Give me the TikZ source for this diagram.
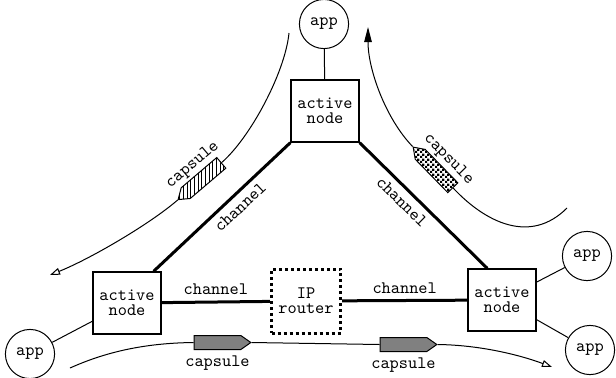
\documentclass[tikz,border=0pt]{standalone}
\usepackage{fontspec}
\usetikzlibrary{arrows.meta,positioning,shapes.symbols,patterns.meta}

% small checkerboard for the capsule fill
\pgfdeclarepattern{
  name=finechecker,
  type=uncolored,
  bottom left={\pgfpoint{0pt}{0pt}},
  top right={\pgfpoint{3pt}{3pt}},
  tile size={\pgfpoint{3pt}{3pt}},
  code={
    \pgfpathrectangle{\pgfpointorigin}{\pgfpoint{1.5pt}{1.5pt}}
    \pgfpathrectangle{\pgfpoint{1.5pt}{1.5pt}}{\pgfpoint{1.5pt}{1.5pt}}
    \pgfusepath{fill}
  }
}

\begin{document}
\begin{tikzpicture}[x=0.6pt,y=-0.6pt,
    font=\ttfamily\fontsize{10.5}{9}\selectfont,
    active/.style={draw,line width=0.8pt,minimum width=40.8pt,minimum height=37.2pt,align=center,inner sep=0pt},
    router/.style={draw,line width=1.8pt,dash pattern=on 1.8pt off 1.8pt,minimum width=41.4pt,minimum height=38.4pt,align=center,inner sep=0pt},
    app/.style={draw,circle,line width=0.6pt,minimum size=29.5pt,inner sep=0pt},
    link/.style={line width=0.6pt},
    channel/.style={line width=1.8pt},
    flow/.style={line width=0.6pt},
    capsule/.style={draw,line width=0.6pt,signal,signal to=east,signal pointer angle=70,minimum width=34pt,minimum height=8.4pt,inner sep=0pt},
    openhead/.style={-{Triangle[open,length=6pt,width=4.2pt]}},
    uphead/.style={-{Triangle[length=9pt,width=4.5pt]}}
    ]
\useasboundingbox (0,0) rectangle (616,377);

% nodes
\node[app] (tapp) at (324,24) {app};
\node[active] (tnode) at (325,111) {active\\node};
\node[active] (lnode) at (127,303) {active\\node};
\node[router] (router) at (306,301) {IP\\router};
\node[active] (rnode) at (502,300) {active\\node};
\node[app] (lapp) at (30,354) {app};
\node[app] (rapp1) at (587,256) {app};
\node[app] (rapp2) at (590,350) {app};

% links to the apps
\draw[link] (tapp) -- (tnode);
\draw[link] (lapp) -- (lnode);
\draw[link] (rnode) -- (rapp1);
\draw[link] (rnode) -- (rapp2);

% channels
\draw[channel] (tnode.south west) -- node[pos=0.43,sloped,below]{channel} (lnode.50);
\draw[channel] (tnode.south east) -- node[pos=0.4,sloped,below]{channel} (rnode.115);
\draw[channel] (lnode) -- node[above]{channel} (router);
\draw[channel] (router) -- node[above]{channel} (rnode);

% capsules
\node[capsule,pattern={Lines[angle=90,distance=2.2pt,line width=0.45pt]},rotate=220.4] (hcap) at (203.5,178) {};
\node[capsule,pattern=finechecker,rotate=134.3] (ccap) at (436.5,171) {};
\node[capsule,fill=black!50] (gcap1) at (217.5,342.5) {};
\node[capsule,fill=black!50] (gcap2) at (403.5,344.5) {};

\node[rotate=40.4,anchor=south,inner sep=1pt] (hlbl) at (hcap.south) {capsule};
\node[rotate=-45.7,anchor=south,inner sep=1pt] (clbl) at (ccap.south) {capsule};
\node[below=0pt of gcap1] (glbl1) {capsule};
\node[below=0pt of gcap2] (glbl2) {capsule};

% capsule flows
\coordinate (lstart) at (289,33);
\coordinate (lend) at (50,275);
\draw[flow] (lstart) .. controls (285,73) and (250,138) .. (hcap.west);
\draw[flow,openhead] (hcap.east) .. controls (150,224) and (90,259) .. (lend);

\coordinate (rtop) at (368,27);
\coordinate (rstart) at (567,208);
\draw[flow] (rstart) .. controls (530,245) and (485,222) .. (ccap.west);
\draw[flow,uphead] (ccap.east) .. controls (386,119) and (368,70) .. (rtop);

\coordinate (bstart) at (70,368);
\coordinate (bend) at (552,367);
\draw[flow] (bstart) .. controls (110,350) and (150,343) .. (gcap1.west);
\draw[flow] (gcap1.east) -- (gcap2.west);
\draw[flow,openhead] (gcap2.east) .. controls (480,345) and (520,355) .. (bend);

\end{tikzpicture}
\end{document}
